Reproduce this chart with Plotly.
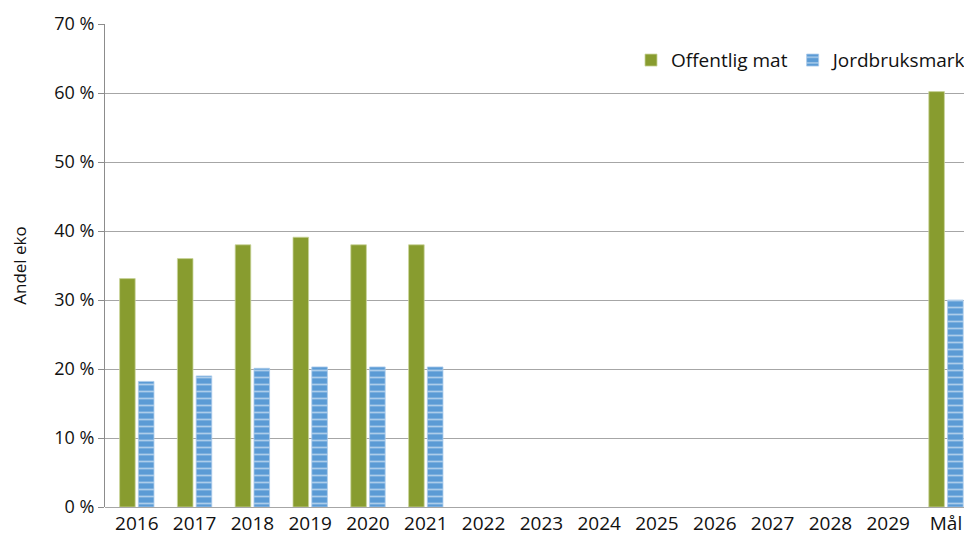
import plotly.graph_objects as go

categories = ["2016", "2017", "2018", "2019", "2020", "2021", "2022", "2023",
              "2024", "2025", "2026", "2027", "2028", "2029", "Mål"]
offentlig_mat = [33.1, 36.0, 38.0, 39.1, 38.0, 38.0, None, None, None, None, None, None, None, None, 60.2]
jordbruksmark = [18.2, 19.0, 20.1, 20.3, 20.3, 20.3, None, None, None, None, None, None, None, None, 30.0]
y_ticks = [0, 10, 20, 30, 40, 50, 60, 70]
y_tick_labels = ["0 %", "10 %", "20 %", "30 %", "40 %", "50 %", "60 %", "70 %"]

font_family = "Open Sans, Noto Sans, sans-serif"

fig = go.Figure()
fig.add_trace(go.Bar(
    name="Offentlig mat", x=categories, y=offentlig_mat,
    marker=dict(color="#889c2f", line=dict(color="#c9d49a", width=0.8)),
))
fig.add_trace(go.Bar(
    name="Jordbruksmark", x=categories, y=jordbruksmark,
    marker=dict(color="#5b9bd5", line=dict(color="#a9c9ea", width=0.8),
                pattern=dict(shape="-", fgcolor="white", bgcolor="#5b9bd5",
                             size=7, solidity=0.25)),
))

fig.update_layout(
    width=964, height=528,
    margin=dict(l=97, r=0, t=16, b=29),
    paper_bgcolor="white", plot_bgcolor="white",
    barmode="group", bargap=0.35, bargroupgap=0.17,
    font=dict(family=font_family, size=18, color="#111111"),
    legend=dict(orientation="h", x=1.0, xanchor="right", y=0.925, yanchor="middle",
                bgcolor="rgba(255,255,255,1)", font=dict(size=19),
                itemwidth=30, traceorder="normal"),
    xaxis=dict(showgrid=False, showline=False, ticks="",
               range=[-0.55, 14.45], tickfont=dict(size=19),
               ticklabelstandoff=3),
    yaxis=dict(range=[0, 70], tickvals=y_ticks, ticktext=y_tick_labels,
               showgrid=True, gridcolor="#a6a6a6", gridwidth=1,
               showline=True, linecolor="#8c8c8c", linewidth=1,
               ticks="outside", ticklen=6, tickcolor="#8c8c8c",
               zeroline=True, zerolinecolor="#a6a6a6", zerolinewidth=1,
               tickfont=dict(size=18),
               title=dict(text="Andel eko", font=dict(size=17), standoff=24)),
)

fig.write_html("out.html")
